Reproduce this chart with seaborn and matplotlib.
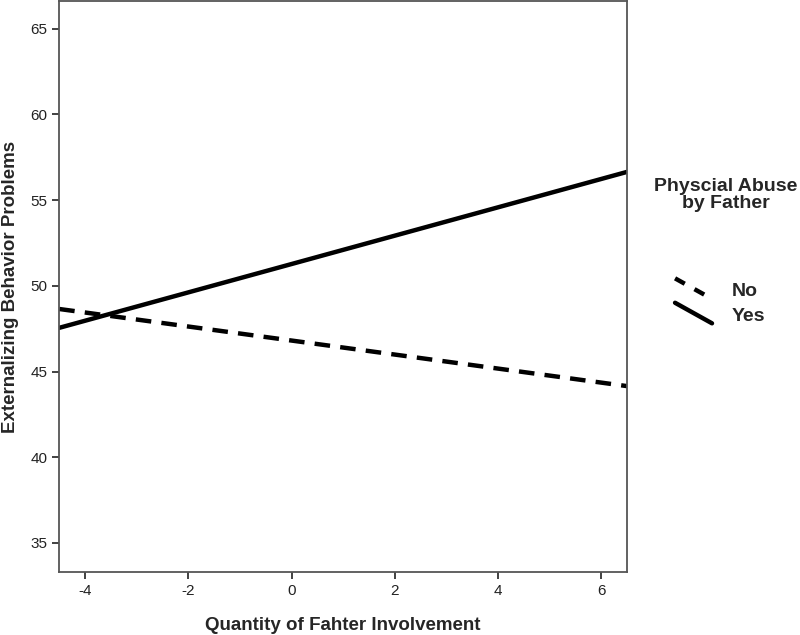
import pandas as pd
import seaborn as sns
import matplotlib.pyplot as plt
from matplotlib.legend_handler import HandlerLine2D

# fitted lines (endpoints at the axis edges)
involvement = [-4.5, 6.5]
abuse_no = [48.65, 44.15]
abuse_yes = [47.55, 56.65]

df = pd.DataFrame({
    "Quantity of Fahter Involvement": involvement * 2,
    "Externalizing Behavior Problems": abuse_no + abuse_yes,
    "Physcial Abuse by Father": ["No"] * 2 + ["Yes"] * 2,
})

sns.set_style("ticks")
plt.rcParams["font.family"] = ["Liberation Sans", "DejaVu Sans"]
plt.rcParams["axes.unicode_minus"] = False

fig = plt.figure(figsize=(8, 6.35), dpi=100)
ax = fig.add_axes([0.074, 0.099, 0.710, 0.899])

sns.lineplot(data=df, x="Quantity of Fahter Involvement",
             y="Externalizing Behavior Problems",
             style="Physcial Abuse by Father",
             dashes={"No": (3.5, 2.3), "Yes": ""},
             color="black", linewidth=3.2, ax=ax, legend=False)

ax.set_xlim(-4.5, 6.5)
ax.set_ylim(33.3, 66.6)
ax.set_xticks([-4, -2, 0, 2, 4, 6])
ax.set_yticks([35, 40, 45, 50, 55, 60, 65])
ax.tick_params(direction="out", length=5, width=1.3, colors="#333333",
               labelsize=11, labelcolor="#222222")
for s in ax.spines.values():
    s.set_color("#555555")
    s.set_linewidth(1.3)

ax.set_xlabel("Quantity of Fahter Involvement", fontsize=13.5,
              fontweight="bold", labelpad=14)
ax.set_ylabel("Externalizing Behavior Problems", fontsize=13.5,
              fontweight="bold", labelpad=8)


# SPSS style slanted legend keys
class SlantHandler(HandlerLine2D):
    def create_artists(self, legend, orig_handle, xdescent, ydescent,
                       width, height, fontsize, trans):
        line = plt.Line2D([0, width], [height + 3, -2])
        self.update_prop(line, orig_handle, legend)
        line.set_transform(trans)
        return [line]


h_no = plt.Line2D([], [], color="black", lw=3.2, linestyle=(0, (2.5, 2.5)))
h_yes = plt.Line2D([], [], color="black", lw=3.2)
fig.text(0.907, 0.693, "Physcial Abuse\nby Father", ha="center", va="center",
         fontsize=14, fontweight="bold", linespacing=1.0)
leg = fig.legend([h_no, h_yes], ["No", "Yes"], loc="center",
                 bbox_to_anchor=(0.9, 0.522), frameon=False,
                 fontsize=14, handlelength=1.9, handletextpad=1.0,
                 labelspacing=0.35,
                 handler_map={plt.Line2D: SlantHandler()})
for t in leg.get_texts():
    t.set_fontweight("bold")

fig.savefig("out.png", dpi=100)
